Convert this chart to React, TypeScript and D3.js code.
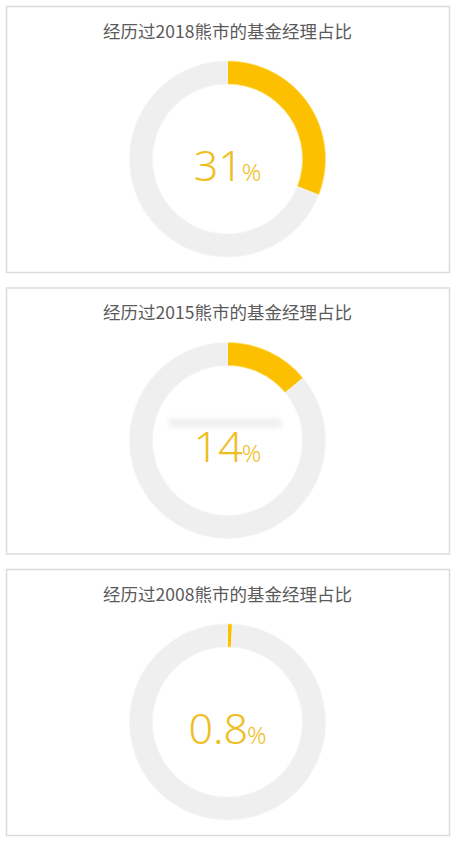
import * as d3 from "d3";
import { useEffect, useRef } from "react";

// one panel per bear market
const titles = [
  "经历过2018熊市的基金经理占比",
  "经历过2015熊市的基金经理占比",
  "经历过2008熊市的基金经理占比",
];
const shares = [31, 14, 0.8];
const shareLabels = ["31", "14", "0.8"];

const width = 457;
const height = 841;
const panelLeft = 6;
const panelRight = 449;
const outerRadius = 98;
const innerRadius = 75;

export default function App() {
  const ref = useRef<SVGSVGElement>(null);

  useEffect(() => {
    if (!ref.current) return;
    const svg = d3.select(ref.current);
    svg.selectAll("*").remove();

    const defs = svg.append("defs");
    defs
      .append("filter")
      .attr("id", "blur")
      .attr("x", "-20%")
      .attr("y", "-100%")
      .attr("width", "140%")
      .attr("height", "300%")
      .append("feGaussianBlur")
      .attr("stdDeviation", 2.5);

    svg.append("rect").attr("width", width).attr("height", height).attr("fill", "#fff");

    const yBand = d3
      .scaleBand<number>()
      .domain(d3.range(titles.length))
      .range([6, 835])
      .paddingInner(0.055);

    const pie = d3
      .pie<number>()
      .sort(null)
      .value((d) => d);

    const arc = d3
      .arc<d3.PieArcDatum<number>>()
      .innerRadius(innerRadius)
      .outerRadius(outerRadius);

    const cx = (panelLeft + panelRight) / 2;

    titles.forEach((title, i) => {
      const top = yBand(i) ?? 0;
      const g = svg.append("g").attr("transform", `translate(0, ${top})`);

      g.append("rect")
        .attr("x", panelLeft + 0.5)
        .attr("y", 0.5)
        .attr("width", panelRight - panelLeft)
        .attr("height", yBand.bandwidth())
        .attr("fill", "#fff")
        .attr("stroke", "#dcdcdc")
        .attr("stroke-width", 1.5);

      g.append("text")
        .attr("x", cx)
        .attr("y", 32)
        .attr("text-anchor", "middle")
        .attr("font-family", "'Noto Sans CJK SC', sans-serif")
        .attr("font-size", 17.5)
        .attr("fill", "#5a5a5a")
        .text(title);

      const ring = g.append("g").attr("transform", `translate(${cx}, 153)`);

      ring
        .selectAll("path")
        .data(pie([shares[i], 100 - shares[i]]))
        .join("path")
        .attr("d", arc)
        .attr("fill", (_, j) => (j === 0 ? "#fcc000" : "#efefef"))
        .attr("stroke", (_, j) => (j === 0 ? "#fde27a" : "#f5f5f5"))
        .attr("stroke-width", 0.8);

      // blurred watermark over the second chart
      if (i === 1) {
        ring
          .append("rect")
          .attr("x", -58)
          .attr("y", -22)
          .attr("width", 112)
          .attr("height", 9)
          .attr("fill", "#d8d8d8")
          .attr("opacity", 0.4)
          .attr("filter", "url(#blur)");
      }

      const label = ring
        .append("text")
        .attr("y", 22)
        .attr("text-anchor", "middle")
        .attr("font-family", "'Noto Sans', sans-serif")
        .attr("font-weight", 300)
        .attr("fill", "#f0bd22");
      label.append("tspan").attr("font-size", 43).text(shareLabels[i]);
      label.append("tspan").attr("font-size", 24).attr("dx", -1).text("%");
    });
  }, []);

  return (
    <svg
      ref={ref}
      width={width}
      height={height}
      style={{ position: "absolute", left: 0, top: 0 }}
    />
  );
}
